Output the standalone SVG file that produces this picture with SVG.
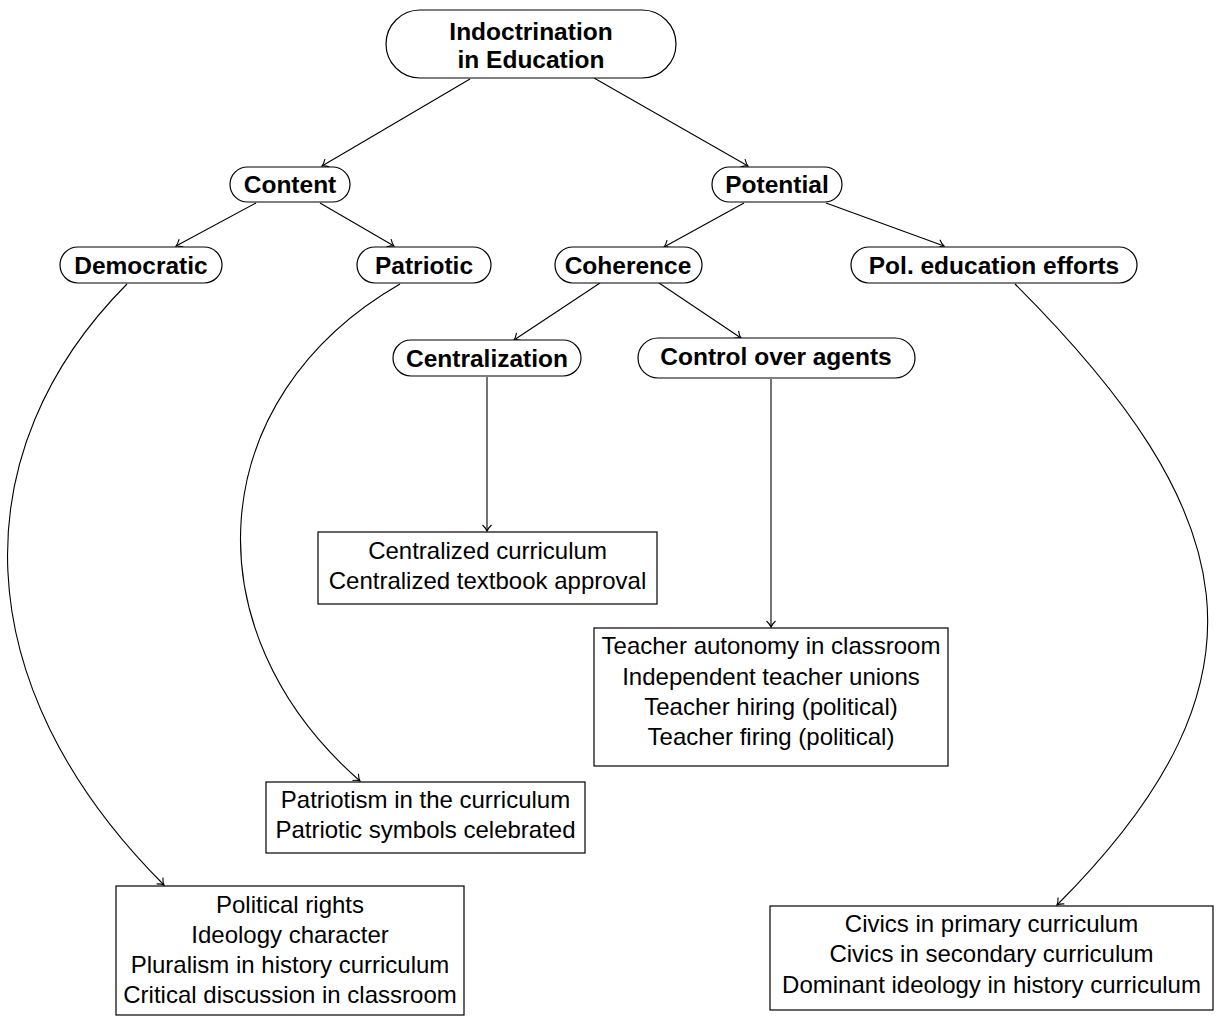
<svg xmlns="http://www.w3.org/2000/svg" width="1217" height="1016" viewBox="0 0 1217 1016">
<style>
.n{fill:#fff;stroke:#000;stroke-width:1.2}
.b{font-family:"Liberation Sans",Arial,sans-serif;font-weight:bold;font-size:24.5px;text-anchor:middle;fill:#000}
.t{font-family:"Liberation Sans",Arial,sans-serif;font-size:24px;text-anchor:middle;fill:#000}
.e{fill:none;stroke:#000;stroke-width:1.1;marker-end:url(#ah)}
</style>
<defs>
<marker id="ah" markerUnits="userSpaceOnUse" markerWidth="12" markerHeight="12" viewBox="-8 -6 10 12" refX="0" refY="0" orient="auto">
<path d="M-6,-4.5 C-3.5,-1.8 -1,-0.4 0,0 C-1,0.4 -3.5,1.8 -6,4.5" fill="none" stroke="#000" stroke-width="1.1"/>
</marker>
</defs>
<rect width="1217" height="1016" fill="#fff"/>
<g id="connectors">
<path class="e" d="M470,79 L322,166"/>
<path class="e" d="M594,78 L748,166"/>
<path class="e" d="M256,203 L176,246"/>
<path class="e" d="M320,203 L394,246"/>
<path class="e" d="M744,203 L664,247"/>
<path class="e" d="M826,203 L944,246"/>
<path class="e" d="M600,283 L514,340"/>
<path class="e" d="M659,283 L741,338"/>
<path class="e" d="M487,377 L487,531"/>
<path class="e" d="M771,379 L771,627"/>
<path class="e" d="M127,284 C-38,450 -38,683 164,885"/>
<path class="e" d="M400,284 C202,398 188,631 360,781"/>
<path class="e" d="M1015,284 C1242,511 1284,678 1057,905"/>
</g>
<g id="root"><rect class="n" x="386" y="10" width="290" height="68" rx="34"/><text class="b" x="531" y="40">Indoctrination</text><text class="b" x="531" y="68">in Education</text></g>
<g id="content"><rect class="n" x="230" y="167" width="120" height="35" rx="17.5"/><text class="b" x="290" y="193">Content</text></g>
<g id="potential"><rect class="n" x="712" y="167" width="130" height="35" rx="17.5"/><text class="b" x="777" y="193">Potential</text></g>
<g id="democratic"><rect class="n" x="60" y="247" width="162" height="36" rx="18"/><text class="b" x="141" y="274">Democratic</text></g>
<g id="patriotic"><rect class="n" x="357" y="247" width="134" height="36" rx="18"/><text class="b" x="424" y="274">Patriotic</text></g>
<g id="coherence"><rect class="n" x="555" y="247" width="147" height="36" rx="18"/><text class="b" x="628" y="274">Coherence</text></g>
<g id="poleducation"><rect class="n" x="851" y="247" width="286" height="36" rx="18"/><text class="b" x="994" y="274">Pol. education efforts</text></g>
<g id="centralization"><rect class="n" x="393" y="340" width="188" height="36" rx="18"/><text class="b" x="487" y="367">Centralization</text></g>
<g id="control"><rect class="n" x="638" y="338" width="277" height="40" rx="20"/><text class="b" x="776" y="365">Control over agents</text></g>
<g id="centralized-box"><rect class="n" x="318" y="532" width="339" height="72"/><text class="t" x="487.5" y="559">Centralized curriculum</text><text class="t" x="487.5" y="589">Centralized textbook approval</text></g>
<g id="teacher-box"><rect class="n" x="594" y="628" width="354" height="138"/><text class="t" x="771" y="654">Teacher autonomy in classroom</text><text class="t" x="771" y="685">Independent teacher unions</text><text class="t" x="771" y="715">Teacher hiring (political)</text><text class="t" x="771" y="745">Teacher firing (political)</text></g>
<g id="patriotism-box"><rect class="n" x="266" y="782" width="319" height="71"/><text class="t" x="425.5" y="808">Patriotism in the curriculum</text><text class="t" x="425.5" y="838">Patriotic symbols celebrated</text></g>
<g id="political-box"><rect class="n" x="116" y="886" width="348" height="129"/><text class="t" x="290" y="913">Political rights</text><text class="t" x="290" y="943">Ideology character</text><text class="t" x="290" y="973">Pluralism in history curriculum</text><text class="t" x="290" y="1003">Critical discussion in classroom</text></g>
<g id="civics-box"><rect class="n" x="770" y="906" width="443" height="104"/><text class="t" x="991.5" y="932">Civics in primary curriculum</text><text class="t" x="991.5" y="962">Civics in secondary curriculum</text><text class="t" x="991.5" y="993">Dominant ideology in history curriculum</text></g>
</svg>
